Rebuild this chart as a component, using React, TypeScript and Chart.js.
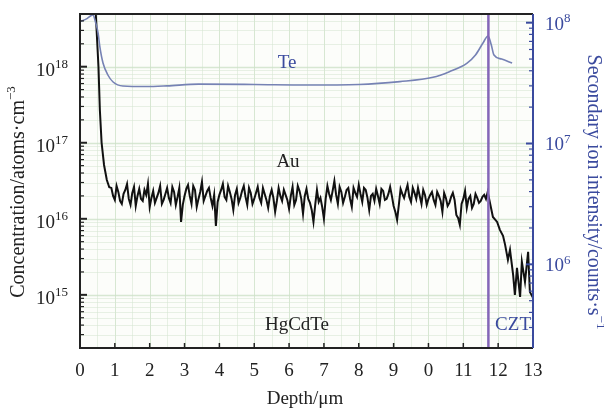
import React, { useEffect, useRef } from "react";
import { Chart, registerables } from "chart.js";

Chart.register(...registerables);

// ---------- data ----------
const depthTicks = [0, 1, 2, 3, 4, 5, 6, 7, 8, 9, 10, 11, 12, 13];
const depthTickLabels = ["0", "1", "2", "3", "4", "5", "6", "7", "8", "9", "0", "11", "12", "13"];
const concDecades = [15, 16, 17, 18];
const concGridDecades = [14, 15, 16, 17, 18];
const intensityDecades = [6, 7, 8];
const intensityGridDecades = [5, 6, 7, 8];
const minorMultipliers = [2, 3, 4, 5, 6, 7, 8, 9];
const concMin = 2.0e14;
const concMax = 4.93e18;
const intMin = 2.03e5;
const intMax = 1.18e8;
const interfaceDepth = 11.72;

const teDepth = [0, 0.2, 0.37, 0.45, 0.52, 0.57, 0.66, 0.8, 0.95, 1.23, 1.9, 2.5, 3.4, 5.0, 6.5, 8.0, 9.18, 10.13, 10.6, 11.1, 11.35, 11.56, 11.71, 11.8, 11.88, 12.1, 12.4];
const teIntensity = [1.02e8, 1.08e8, 1.16e8, 1.0e8, 8.2e7, 6.3e7, 4.64e7, 3.69e7, 3.23e7, 2.99e7, 2.96e7, 3.0e7, 3.1e7, 3.08e7, 3.05e7, 3.08e7, 3.25e7, 3.53e7, 3.93e7, 4.61e7, 5.4e7, 6.75e7, 7.76e7, 6.6e7, 5.4e7, 5.0e7, 4.64e7];

const auDepth = [
  0.41, 0.53, 0.57, 0.62, 0.69, 0.77, 0.84,
  0.9, 0.95,
  1.0, 1.05, 1.1, 1.15, 1.2, 1.25, 1.3, 1.35, 1.4, 1.45, 1.5, 1.55, 1.6, 1.65, 1.7, 1.75, 1.8, 1.85, 1.9, 1.95,
  2.0, 2.05, 2.1, 2.15, 2.2, 2.25, 2.3, 2.35, 2.4, 2.45, 2.5, 2.55, 2.6, 2.65, 2.7, 2.75, 2.8, 2.85, 2.9, 2.95,
  3.0, 3.05, 3.1, 3.15, 3.2, 3.25, 3.3, 3.35, 3.4, 3.45, 3.5, 3.55, 3.6, 3.65, 3.7, 3.75, 3.8, 3.85, 3.9, 3.95,
  4.0, 4.05, 4.1, 4.15, 4.2, 4.25, 4.3, 4.35, 4.4, 4.45, 4.5, 4.55, 4.6, 4.65, 4.7, 4.75, 4.8, 4.85, 4.9, 4.95,
  5.0, 5.05, 5.1, 5.15, 5.2, 5.25, 5.3, 5.35, 5.4, 5.45, 5.5, 5.55, 5.6, 5.65, 5.7, 5.75, 5.8, 5.85, 5.9, 5.95,
  6.0, 6.05, 6.1, 6.15, 6.2, 6.25, 6.3, 6.35, 6.4, 6.45, 6.5, 6.55, 6.6, 6.65, 6.7, 6.75, 6.8, 6.85, 6.9, 6.95,
  7.0, 7.05, 7.1, 7.15, 7.2, 7.25, 7.3, 7.35, 7.4, 7.45, 7.5, 7.55, 7.6, 7.65, 7.7, 7.75, 7.8, 7.85, 7.9, 7.95,
  8.0, 8.05, 8.1, 8.15, 8.2, 8.25, 8.3, 8.35, 8.4, 8.45, 8.5, 8.55, 8.6, 8.65, 8.7, 8.75, 8.8, 8.85, 8.9, 8.95,
  9.0, 9.05, 9.1, 9.15, 9.2, 9.25, 9.3, 9.35, 9.4, 9.45, 9.5, 9.55, 9.6, 9.65, 9.7, 9.75, 9.8, 9.85, 9.9, 9.95,
  10.0, 10.05, 10.1, 10.15, 10.2, 10.25, 10.3, 10.35, 10.4, 10.45, 10.5, 10.55, 10.6, 10.65, 10.7, 10.75, 10.8, 10.85, 10.9, 10.95,
  11.0, 11.05, 11.1, 11.15, 11.2, 11.25, 11.3, 11.35, 11.4, 11.45, 11.5, 11.55, 11.6, 11.65, 11.7,
  11.85, 11.97, 12.05, 12.14, 12.2, 12.28, 12.34, 12.43, 12.48, 12.54, 12.63, 12.68, 12.77, 12.86, 12.91, 13.0,
];
const auConc = [
  1.2e19, 1.0e18, 2.7e17, 1.0e17, 5.1e16, 3.24e16, 2.6e16,
  2.547e16, 1.999e16,
  1.772e16, 2.705e16, 2.256e16, 1.719e16, 1.57e16, 2.124e16, 2.397e16, 2.874e16, 1.826e16, 1.523e16, 2.189e16, 2.624e16, 1.477e16, 1.999e16, 2.471e16, 1.826e16, 1.719e16, 2.397e16, 2.061e16, 2.874e16,
  1.433e16, 1.882e16, 2.326e16, 1.618e16, 1.882e16, 2.189e16, 2.705e16, 1.57e16, 1.772e16, 2.124e16, 2.547e16, 1.882e16, 1.618e16, 2.624e16, 2.256e16, 1.523e16, 1.94e16, 2.547e16, 9.1e15, 1.523e16,
  1.999e16, 2.471e16, 2.788e16, 1.999e16, 1.57e16, 2.705e16, 2.397e16, 1.433e16, 1.826e16, 2.256e16, 3.053e16, 1.719e16, 1.999e16, 2.326e16, 2.547e16, 1.882e16, 1.477e16, 2.061e16, 8.06e15, 1.667e16,
  2.061e16, 2.397e16, 2.874e16, 1.94e16, 1.772e16, 2.705e16, 2.256e16, 1.826e16, 1.309e16, 2.061e16, 2.471e16, 1.618e16, 1.882e16, 2.326e16, 2.705e16, 1.94e16, 1.523e16, 2.547e16, 2.189e16, 1.57e16,
  1.826e16, 2.189e16, 2.624e16, 1.882e16, 1.618e16, 2.547e16, 2.124e16, 1.772e16, 1.39e16, 1.999e16, 2.397e16, 1.882e16, 1.232e16, 1.719e16, 2.547e16, 1.999e16, 1.719e16, 2.397e16, 2.061e16, 1.772e16,
  1.349e16, 1.999e16, 2.624e16, 1.523e16, 1.772e16, 2.705e16, 2.326e16, 1.826e16, 1.16e16, 1.999e16, 2.471e16, 1.826e16, 1.618e16, 1.309e16, 9.1e15, 1.523e16, 2.397e16, 1.667e16, 1.882e16, 1.433e16,
  9.97e15, 1.826e16, 2.705e16, 2.124e16, 1.772e16, 2.326e16, 3.148e16, 2.061e16, 1.57e16, 2.624e16, 2.256e16, 1.618e16, 1.94e16, 2.397e16, 2.547e16, 1.826e16, 1.433e16, 2.547e16, 2.189e16, 1.94e16,
  2.788e16, 2.124e16, 1.667e16, 2.547e16, 2.397e16, 1.882e16, 1.309e16, 1.999e16, 2.124e16, 1.719e16, 2.471e16, 1.999e16, 1.57e16, 2.471e16, 2.326e16, 1.772e16, 1.826e16, 2.124e16, 2.624e16, 1.999e16,
  1.477e16, 1.232e16, 9.67e15, 1.523e16, 2.471e16, 2.124e16, 1.882e16, 2.326e16, 2.788e16, 1.94e16, 1.667e16, 2.547e16, 2.189e16, 1.826e16, 2.547e16, 1.999e16, 1.57e16, 2.397e16, 2.061e16, 1.523e16,
  1.826e16, 2.061e16, 2.256e16, 1.772e16, 1.523e16, 2.256e16, 1.999e16, 1.719e16, 1.232e16, 2.189e16, 1.882e16, 1.477e16, 1.618e16, 1.94e16, 2.189e16, 1.772e16, 1.125e16, 1.028e16, 8.31e15, 1.57e16,
  1.826e16, 2.326e16, 1.39e16, 1.826e16, 1.999e16, 1.39e16, 1.57e16, 2.124e16, 1.882e16, 1.618e16, 1.719e16, 1.94e16, 2.061e16, 1.826e16, 2.256e16,
  1.058e16, 9.1e15, 7.15e15, 5.97e15, 4.54e15, 2.885e15, 3.905e15, 1.833e15, 1.0e15, 2.265e15, 9.41e14, 2.716e15, 1.483e15, 3.676e15, 1.095e15, 9.13e14,
];

// ---------- styles ----------
const SERIF = '"Liberation Serif", "Times New Roman", serif';
const BLUE = "#3a4a9e";
const TE_COLOR = "#7682b4";
const PURPLE = "#8466b8";
const GRID = "rgba(214,230,210,0.55)";
const GRID_MAJOR = "rgba(205,225,200,0.8)";

function drawSup(ctx: CanvasRenderingContext2D, base: string, sup: string, x: number, y: number, baseSize: number, supSize: number, supRise: number) {
  ctx.textAlign = "left";
  ctx.textBaseline = "middle";
  ctx.font = `${baseSize}px ${SERIF}`;
  const w = ctx.measureText(base).width;
  ctx.fillText(base, x, y);
  ctx.font = `${supSize}px ${SERIF}`;
  ctx.fillText(sup, x + w, y - supRise);
  return w + ctx.measureText(sup).width;
}

function measureSup(ctx: CanvasRenderingContext2D, base: string, sup: string, baseSize: number, supSize: number) {
  ctx.font = `${baseSize}px ${SERIF}`;
  const w = ctx.measureText(base).width;
  ctx.font = `${supSize}px ${SERIF}`;
  return w + ctx.measureText(sup).width;
}

const simsPlugin = {
  id: "simsDecor",
  beforeDatasetsDraw(chart: any) {
    const { ctx, chartArea: a, scales } = chart;
    const xs = scales.x;
    const yl = scales.yConc;
    ctx.save();
    ctx.fillStyle = "#fcfdfa";
    ctx.fillRect(a.left, a.top, a.right - a.left, a.bottom - a.top);
    ctx.lineWidth = 1;
    for (const d of depthTicks) {
      for (const v of [d, d + 0.5]) {
        if (v <= 0 || v >= 13) continue;
        const px = Math.round(xs.getPixelForValue(v)) + 0.5;
        ctx.strokeStyle = v % 1 === 0 ? GRID_MAJOR : GRID;
        ctx.beginPath();
        ctx.moveTo(px, a.top);
        ctx.lineTo(px, a.bottom);
        ctx.stroke();
      }
    }
    for (const n of concGridDecades) {
      for (const m of [1, ...minorMultipliers]) {
        const v = m * Math.pow(10, n);
        if (v <= concMin || v >= concMax) continue;
        const py = Math.round(yl.getPixelForValue(v)) + 0.5;
        ctx.strokeStyle = m === 1 ? GRID_MAJOR : GRID;
        ctx.lineWidth = m === 1 ? 1.5 : 1;
        ctx.beginPath();
        ctx.moveTo(a.left, py);
        ctx.lineTo(a.right, py);
        ctx.stroke();
      }
    }
    ctx.restore();
  },
  afterDatasetsDraw(chart: any) {
    const { ctx, chartArea: a, scales } = chart;
    const xs = scales.x;
    const yl = scales.yConc;
    const yr = scales.yInt;
    ctx.save();

    const ix = xs.getPixelForValue(interfaceDepth);
    ctx.strokeStyle = PURPLE;
    ctx.lineWidth = 2.5;
    ctx.beginPath();
    ctx.moveTo(ix, a.top);
    ctx.lineTo(ix, a.bottom);
    ctx.stroke();

    ctx.lineWidth = 2;
    ctx.strokeStyle = "#222";
    ctx.beginPath();
    ctx.moveTo(a.right, a.top);
    ctx.lineTo(a.left, a.top);
    ctx.lineTo(a.left, a.bottom);
    ctx.lineTo(a.right, a.bottom);
    ctx.stroke();
    ctx.strokeStyle = BLUE;
    ctx.beginPath();
    ctx.moveTo(a.right, a.top);
    ctx.lineTo(a.right, a.bottom);
    ctx.stroke();

    ctx.strokeStyle = "#222";
    ctx.lineWidth = 1.5;
    for (const d of depthTicks) {
      if (d === 0 || d === 13) continue;
      const px = xs.getPixelForValue(d);
      ctx.beginPath();
      ctx.moveTo(px, a.bottom);
      ctx.lineTo(px, a.bottom - 5);
      ctx.stroke();
    }
    for (const n of concGridDecades) {
      for (const m of [1, ...minorMultipliers]) {
        const v = m * Math.pow(10, n);
        if (v <= concMin || v >= concMax) continue;
        const py = yl.getPixelForValue(v);
        ctx.lineWidth = m === 1 ? 2 : 1.2;
        ctx.beginPath();
        ctx.moveTo(a.left, py);
        ctx.lineTo(a.left + (m === 1 ? 7 : 4), py);
        ctx.stroke();
      }
    }
    ctx.strokeStyle = BLUE;
    for (const n of intensityGridDecades) {
      for (const m of [1, ...minorMultipliers]) {
        const v = m * Math.pow(10, n);
        if (v <= intMin || v >= intMax) continue;
        const py = yr.getPixelForValue(v);
        ctx.lineWidth = m === 1 ? 2 : 1.2;
        ctx.beginPath();
        ctx.moveTo(a.right, py);
        ctx.lineTo(a.right - (m === 1 ? 7 : 4), py);
        ctx.stroke();
      }
    }

    ctx.fillStyle = "#222";
    ctx.font = `19px ${SERIF}`;
    ctx.textAlign = "center";
    ctx.textBaseline = "middle";
    depthTicks.forEach((d, i) => {
      ctx.fillText(depthTickLabels[i], xs.getPixelForValue(d), 371);
    });

    for (const n of concDecades) {
      const py = yl.getPixelForValue(Math.pow(10, n));
      const w = measureSup(ctx, "10", String(n), 19, 13);
      ctx.fillStyle = "#222";
      drawSup(ctx, "10", String(n), 68 - w, py + 4, 19, 13, 6);
    }
    for (const n of intensityDecades) {
      const py = yr.getPixelForValue(Math.pow(10, n));
      ctx.fillStyle = BLUE;
      drawSup(ctx, "10", String(n), 545, py + 2, 19, 13, 6);
    }

    ctx.fillStyle = "#222";
    ctx.save();
    ctx.translate(19, 192);
    ctx.rotate(-Math.PI / 2);
    {
      const w = measureSup(ctx, "Concentration/atoms·cm", "−3", 20, 13);
      drawSup(ctx, "Concentration/atoms·cm", "−3", -w / 2, 0, 20, 13, 7);
    }
    ctx.restore();

    ctx.fillStyle = BLUE;
    ctx.save();
    ctx.translate(593, 192);
    ctx.rotate(Math.PI / 2);
    {
      const w = measureSup(ctx, "Secondary ion intensity/counts·s", "−1", 20, 13);
      drawSup(ctx, "Secondary ion intensity/counts·s", "−1", -w / 2, 0, 20, 13, 7);
    }
    ctx.restore();

    ctx.fillStyle = "#222";
    ctx.font = `19px ${SERIF}`;
    ctx.textAlign = "center";
    ctx.textBaseline = "middle";
    ctx.fillText("Depth/μm", 305, 399);

    ctx.font = `19px ${SERIF}`;
    ctx.fillStyle = BLUE;
    ctx.fillText("Te", 287, 63);
    ctx.fillStyle = "#222";
    ctx.fillText("Au", 288, 162);
    ctx.fillText("HgCdTe", 297, 325);
    ctx.fillStyle = BLUE;
    ctx.textAlign = "right";
    ctx.fillText("CZT", a.right - 2, 325);

    ctx.restore();
  },
};

export default function App() {
  const canvasRef = useRef<HTMLCanvasElement | null>(null);

  useEffect(() => {
    const canvas = canvasRef.current;
    if (!canvas) return;
    const chart = new Chart(canvas, {
      type: "line",
      data: {
        datasets: [
          {
            label: "Te",
            data: teDepth.map((d, i) => ({ x: d, y: teIntensity[i] })),
            yAxisID: "yInt",
            borderColor: TE_COLOR,
            borderWidth: 1.6,
            pointRadius: 0,
            tension: 0.35,
            cubicInterpolationMode: "monotone",
            clip: 0,
          },
          {
            label: "Au",
            data: auDepth.map((d, i) => ({ x: d, y: auConc[i] })),
            yAxisID: "yConc",
            borderColor: "#111",
            borderWidth: 2,
            pointRadius: 0,
            tension: 0,
            clip: 0,
          },
        ],
      },
      options: {
        animation: false,
        responsive: false,
        devicePixelRatio: 1,
        layout: { padding: { left: 80, right: 71, top: 14, bottom: 63 } },
        plugins: { legend: { display: false }, tooltip: { enabled: false } },
        scales: {
          x: { type: "linear", min: 0, max: 13, display: false },
          yConc: { type: "logarithmic", min: concMin, max: concMax, display: false, position: "left" },
          yInt: { type: "logarithmic", min: intMin, max: intMax, display: false, position: "right" },
        },
      },
      plugins: [simsPlugin],
    } as any);
    return () => chart.destroy();
  }, []);

  return (
    <div style={{ position: "fixed", left: 0, top: 0, width: 604, height: 411, background: "#fff" }}>
      <canvas ref={canvasRef} width={604} height={411} style={{ display: "block" }} />
    </div>
  );
}
